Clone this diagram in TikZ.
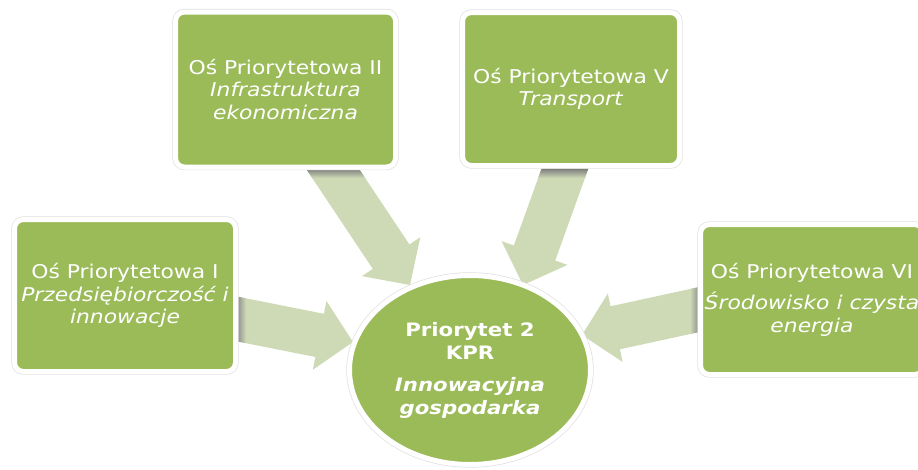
\documentclass[tikz,border=0pt]{standalone}
\usepackage{fontspec}
\newfontfamily\dvs[FakeStretch=1.15]{DejaVu Sans}
\usetikzlibrary{calc,shapes.geometric,backgrounds}
\definecolor{boxgreen}{RGB}{155,187,89}
\definecolor{arrowgreen}{RGB}{205,218,181}
\tikzset{
  box/.style={rectangle, rounded corners=9pt, fill=boxgreen, draw=white,
    line width=5pt, preaction={draw=black!12, line width=6.4pt},
    text=white, align=center, inner sep=0pt,
    font=\dvs\fontsize{19}{22.5}\selectfont},
  hub/.style={ellipse, fill=boxgreen, draw=white, line width=5pt,
    preaction={draw=black!12, line width=6.4pt},
    text=white, align=center, inner sep=0pt,
    minimum width=241pt, minimum height=189pt,
    font=\dvs\fontsize{18.5}{23}\selectfont\bfseries},
  blockfill/.style={fill=arrowgreen}
}
% #1 tail, #2 tip, #3/#4 corners of the shadow band, #5 shading
\newcommand\blockarrow[5]{%
  \path ($(#2)!34pt!(#1)$) coordinate (hb);
  \fill[blockfill] ($(#1)!22pt!90:(#2)$) -- ($(hb)!22pt!90:(#2)$)
    -- ($(hb)!35pt!90:(#2)$) -- (#2) -- ($(hb)!35pt!-90:(#2)$)
    -- ($(hb)!22pt!-90:(#2)$) -- ($(#1)!22pt!-90:(#2)$) -- cycle;
  \begin{scope}
    \clip ($(#1)!22pt!90:(#2)$) -- ($(hb)!22pt!90:(#2)$)
      -- ($(hb)!35pt!90:(#2)$) -- (#2) -- ($(hb)!35pt!-90:(#2)$)
      -- ($(hb)!22pt!-90:(#2)$) -- ($(#1)!22pt!-90:(#2)$) -- cycle;
    \shade[#5] (#3) rectangle (#4);
  \end{scope}}
\begin{document}
\begin{tikzpicture}[x=1pt,y=-1pt]
\useasboundingbox (0,0) rectangle (918,469);

\node[box, minimum width=220pt, minimum height=155pt] (b2) at (285.5,89.5)
  {Oś Priorytetowa II\\\textit{Infrastruktura}\\\textit{ekonomiczna}};
\node[box, minimum width=217pt, minimum height=153pt] (b5) at (571,89)
  {Oś Priorytetowa V\\\textit{Transport}};
\node[box, minimum width=221pt, minimum height=152pt] (b1) at (125,295.5)
  {Oś Priorytetowa I\\\textit{Przedsiębiorczość i}\\\textit{innowacje}};
\node[box, minimum width=223pt, minimum height=150pt] (b6) at (812,299.5)
  {Oś Priorytetowa VI\\[9pt]\textit{Środowisko i czysta}\\\textit{energia}};

\node[hub] (hub) at (470,370)
  {Priorytet 2\\KPR\\[9pt]\textit{Innowacyjna}\\\textit{gospodarka}};

\coordinate (t2) at (312,138);  \coordinate (p2) at (410,285);
\coordinate (t5) at (576,138);  \coordinate (p5) at (523,285);
\coordinate (t1) at (215,314.6); \coordinate (p1) at (353,342);
\coordinate (t6) at (720,305);  \coordinate (p6) at (582,335);

\begin{scope}[on background layer]
  \fill[white] (0,0) rectangle (918,469);
  \blockarrow{t2}{p2}{270,169}{400,178}{top color=black!50, bottom color=arrowgreen}
  \blockarrow{t5}{p5}{520,169}{620,178}{top color=black!50, bottom color=arrowgreen}
  \blockarrow{t1}{p1}{237,280}{246,370}{left color=black!45, right color=arrowgreen}
  \blockarrow{t6}{p6}{690,280}{699,370}{left color=arrowgreen, right color=black!45}
\end{scope}
\end{tikzpicture}
\end{document}
